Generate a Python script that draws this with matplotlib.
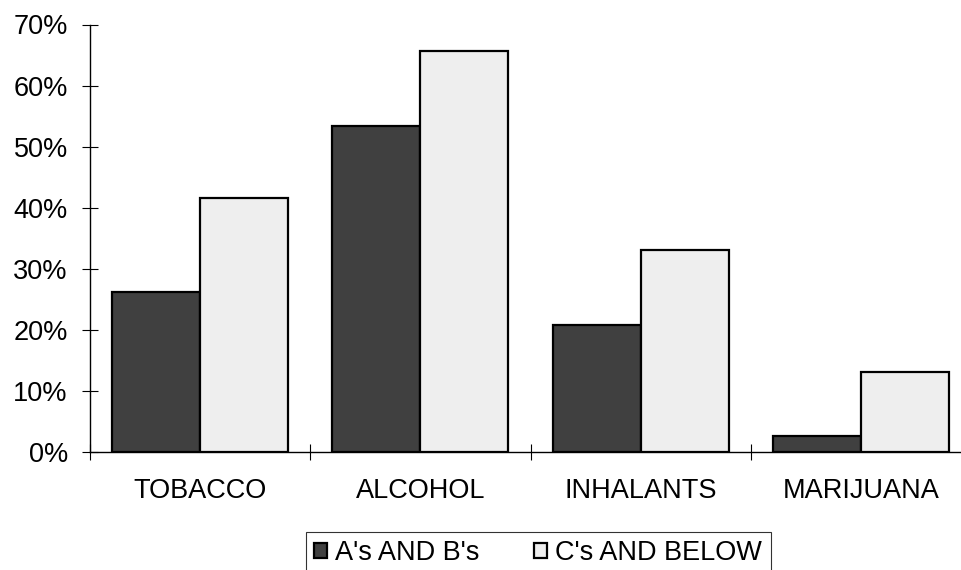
import numpy as np
import matplotlib
matplotlib.use("Agg")
import matplotlib.pyplot as plt
from matplotlib.ticker import PercentFormatter

plt.rcParams['font.family'] = ['Liberation Sans', 'DejaVu Sans']

categories = ['TOBACCO', 'ALCOHOL', 'INHALANTS', 'MARIJUANA']
series_names = ["A's AND B's", "C's AND BELOW"]
ab_values = [0.262, 0.534, 0.208, 0.026]
c_values = [0.416, 0.657, 0.330, 0.131]

fig = plt.figure(figsize=(9.61, 5.70), dpi=100)
ax = fig.add_axes([90 / 961, 1 - 452 / 570, 881 / 961, 427.5 / 570])

x = np.arange(len(categories))
w = 0.4
ax.bar(x - w / 2, ab_values, w, color='#404040', edgecolor='black',
       linewidth=1.6, label=series_names[0])
ax.bar(x + w / 2, c_values, w, color='#eeeeee', edgecolor='black',
       linewidth=1.6, label=series_names[1])

ax.set_xlim(-0.5, len(categories) - 0.5)
ax.set_ylim(0, 0.7)
ax.set_yticks(np.arange(0, 0.71, 0.1))
ax.yaxis.set_major_formatter(PercentFormatter(1.0, decimals=0))

# category labels sit between the boundary ticks
ax.set_xticks(np.arange(len(categories) + 1) - 0.5)
ax.set_xticklabels([])
ax.set_xticks(x, minor=True)
ax.set_xticklabels(categories, minor=True, fontsize=19.5)
ax.tick_params(axis='x', which='minor', length=0, pad=19)
ax.tick_params(axis='x', which='major', direction='inout', length=12, width=0.8)
ax.tick_params(axis='y', direction='inout', length=12, width=0.8,
               labelsize=19.5, pad=10)

for s in ['top', 'right']:
    ax.spines[s].set_visible(False)
ax.spines['left'].set_linewidth(1.0)
ax.spines['bottom'].set_linewidth(1.0)

leg = fig.legend(loc='center', bbox_to_anchor=(538 / 961, 1 - 553 / 570),
                 ncol=2, fontsize=19.5, frameon=True, fancybox=False,
                 edgecolor='black', handlelength=0.5, handleheight=0.5,
                 handletextpad=0.3, columnspacing=2.0, borderpad=0.3,
                 borderaxespad=0)
leg.get_frame().set_linewidth(0.8)

fig.savefig('out.png', dpi=100)
